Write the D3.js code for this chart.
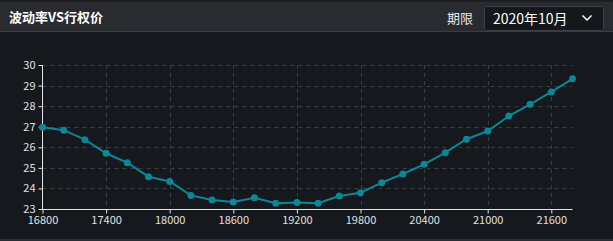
<!DOCTYPE html>
<html><head><meta charset="utf-8">
<script src="https://cdn.jsdelivr.net/npm/d3@7"></script>
<style>
html,body{margin:0;padding:0;background:#15181c;overflow:hidden;}
svg{display:block;}
</style></head>
<body>
<svg id="c" width="613" height="241"></svg>
<script>
const strikes = [16800,17000,17200,17400,17600,17800,18000,18200,18400,18600,18800,19000,19200,19400,19600,19800,20000,20200,20400,20600,20800,21000,21200,21400,21600,21800];
const vols = [26.97,26.83,26.37,25.71,25.25,24.57,24.34,23.66,23.44,23.34,23.55,23.28,23.31,23.28,23.63,23.79,24.28,24.70,25.17,25.74,26.39,26.79,27.52,28.09,28.69,29.33];
const xTicks = [16800,17400,18000,18600,19200,19800,20400,21000,21600];
const yTicks = [23,24,25,26,27,28,29,30];
const title = "波动率VS行权价";
const periodLabel = "期限";
const periodValue = "2020年10月";

const svg = d3.select("#c");
const font = "'Noto Sans CJK SC','Noto Sans',sans-serif";

// background panels
svg.append("rect").attr("x",0).attr("y",0).attr("width",613).attr("height",241).attr("fill","#15181c");
svg.append("rect").attr("x",0).attr("y",0).attr("width",613).attr("height",2).attr("fill","#1d1e22");
svg.append("rect").attr("x",0).attr("y",2).attr("width",613).attr("height",29).attr("fill","#2a2b30");
svg.append("rect").attr("x",0).attr("y",31).attr("width",613).attr("height",1).attr("fill","#3b3c41");
svg.append("rect").attr("x",0).attr("y",239).attr("width",613).attr("height",2).attr("fill","#2a2b30");

svg.append("text").attr("x",9).attr("y",22).attr("fill","#ffffff")
  .attr("font-family",font).attr("font-weight","bold").attr("font-size",13).text(title);
svg.append("text").attr("x",447).attr("y",22.5).attr("fill","#e6e6e6")
  .attr("font-family",font).attr("font-size",13).text(periodLabel);
svg.append("rect").attr("x",484.5).attr("y",6.5).attr("width",119).attr("height",24).attr("rx",2)
  .attr("fill","#14171b").attr("stroke","#3d3e43");
svg.append("text").attr("x",493).attr("y",23.5).attr("fill","#ffffff")
  .attr("font-family",font).attr("font-size",14).text(periodValue);
svg.append("path").attr("d","M582.5,15.5 L587,20 L591.5,15.5").attr("fill","none")
  .attr("stroke","#ffffff").attr("stroke-width",1.5);

// scales
const x = d3.scaleLinear().domain([16800,21800]).range([42.5,572.5]);
const y = d3.scaleLinear().domain([23,30]).range([209,65]);

// grid
const g = svg.append("g");
g.selectAll(".hg").data(yTicks.filter(v=>v>23)).join("line")
  .attr("x1",42.5).attr("x2",572.5)
  .attr("y1",d=>Math.round(y(d))+0.5).attr("y2",d=>Math.round(y(d))+0.5)
  .attr("stroke","#3a3d42").attr("stroke-dasharray","4,4");
g.selectAll(".vg").data(xTicks.filter(v=>v>16800)).join("line")
  .attr("x1",d=>Math.round(x(d))+0.5).attr("x2",d=>Math.round(x(d))+0.5)
  .attr("y1",65).attr("y2",209)
  .attr("stroke","#3a3d42").attr("stroke-dasharray","4,4");

// axes
const xAxis = d3.axisBottom(x).tickValues(xTicks).tickSize(4).tickPadding(3).tickFormat(d3.format("d"));
const yAxis = d3.axisLeft(y).tickValues(yTicks).tickSize(4).tickPadding(3).tickFormat(d3.format("d"));
const xa = svg.append("g").attr("transform","translate(0,209.5)").call(xAxis);
const ya = svg.append("g").attr("transform","translate(42.5,0)").call(yAxis);
[xa,ya].forEach(a=>{
  a.select(".domain").attr("stroke","#e6e6e6");
  a.selectAll(".tick line").attr("stroke","#e6e6e6");
  a.selectAll("text").attr("fill","#e0e0e0").attr("font-family",font).attr("font-size",11);
});
ya.select(".domain").attr("d","M0,65V209.5");
xa.select(".domain").attr("d","M42.5,0H572.5");

// line
const line = d3.line().x((d,i)=>x(strikes[i])).y(d=>y(d));
svg.append("path").datum(vols).attr("d",line).attr("fill","none")
  .attr("stroke","#0f8596").attr("stroke-width",2);
svg.selectAll(".pt").data(vols).join("circle")
  .attr("cx",(d,i)=>x(strikes[i])).attr("cy",d=>y(d)).attr("r",3.5)
  .attr("fill","#0f8596");
</script>
</body></html>
